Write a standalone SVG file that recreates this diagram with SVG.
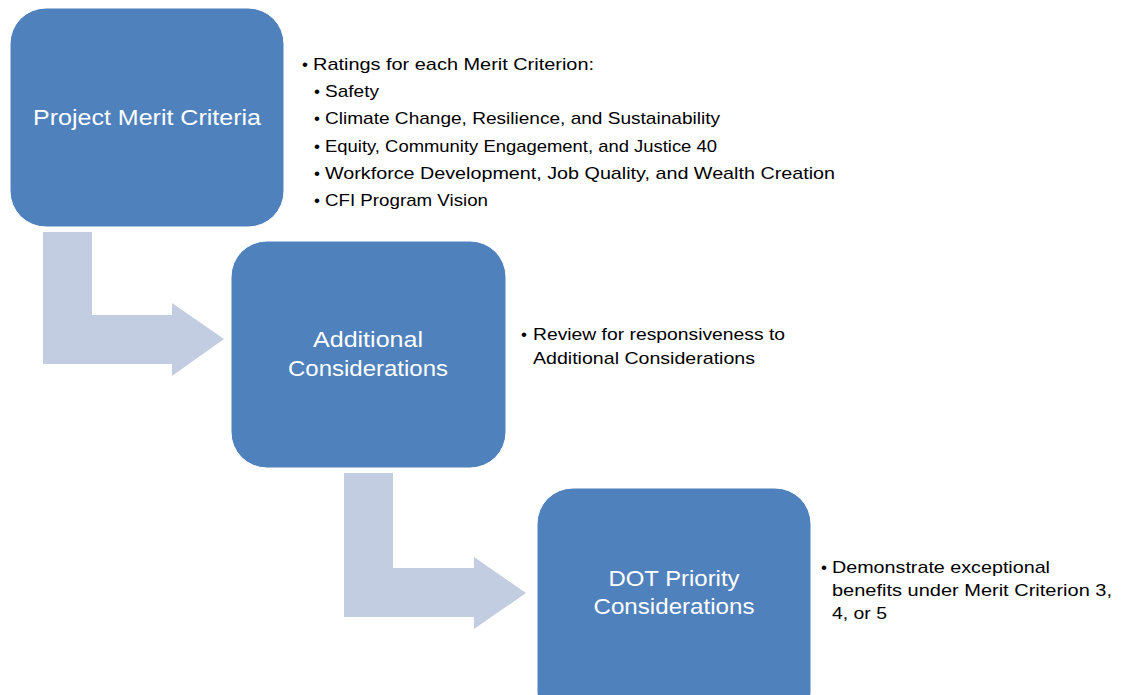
<svg xmlns="http://www.w3.org/2000/svg" width="1121" height="695" viewBox="0 0 1121 695">
<style>
.box{fill:#4F81BD;stroke:#ffffff;stroke-width:1}
.arrow{fill:#C3CDE2}
.lbl{font-family:"Liberation Sans",Arial,sans-serif;font-size:22px;fill:#ffffff;text-anchor:middle}
.bul{font-family:"Liberation Sans",Arial,sans-serif;font-size:17px;fill:#000000}
</style>
<rect width="1121" height="695" fill="#ffffff"/>
<g id="connectors">
<path class="arrow" d="M43,232 H92 V315 H172 V303 L224,339 L172,376 V364 H43 Z"/>
<path class="arrow" d="M344,473 H393 V568 H474 V557 L526,593 L474,629 V617 H344 Z"/>
</g>
<g id="node1">
<rect class="box" x="10" y="8" width="274" height="219" rx="36"/>
<text class="lbl" x="147" y="125" textLength="228" lengthAdjust="spacingAndGlyphs">Project Merit Criteria</text>
</g>
<g id="node1-notes">
<text class="bul" x="302" y="70">•</text>
<text class="bul" x="313" y="70" textLength="281" lengthAdjust="spacingAndGlyphs">Ratings for each Merit Criterion:</text>
<text class="bul" x="314" y="97">•</text>
<text class="bul" x="325" y="97" textLength="54" lengthAdjust="spacingAndGlyphs">Safety</text>
<text class="bul" x="314" y="124">•</text>
<text class="bul" x="325" y="124" textLength="395" lengthAdjust="spacingAndGlyphs">Climate Change, Resilience, and Sustainability</text>
<text class="bul" x="314" y="152">•</text>
<text class="bul" x="325" y="152" textLength="392" lengthAdjust="spacingAndGlyphs">Equity, Community Engagement, and Justice 40</text>
<text class="bul" x="314" y="179">•</text>
<text class="bul" x="325" y="179" textLength="510" lengthAdjust="spacingAndGlyphs">Workforce Development, Job Quality, and Wealth Creation</text>
<text class="bul" x="314" y="206">•</text>
<text class="bul" x="325" y="206" textLength="163" lengthAdjust="spacingAndGlyphs">CFI Program Vision</text>
</g>
<g id="node2">
<rect class="box" x="231" y="241" width="275" height="227" rx="36"/>
<text class="lbl" x="368" y="347" textLength="110" lengthAdjust="spacingAndGlyphs">Additional</text>
<text class="lbl" x="368" y="376" textLength="160" lengthAdjust="spacingAndGlyphs">Considerations</text>
</g>
<g id="node2-notes">
<text class="bul" x="521" y="340">•</text>
<text class="bul" x="533" y="340" textLength="252" lengthAdjust="spacingAndGlyphs">Review for responsiveness to</text>
<text class="bul" x="533" y="364" textLength="222" lengthAdjust="spacingAndGlyphs">Additional Considerations</text>
</g>
<g id="node3">
<rect class="box" x="537" y="488" width="274" height="240" rx="36"/>
<text class="lbl" x="674" y="586" textLength="131" lengthAdjust="spacingAndGlyphs">DOT Priority</text>
<text class="lbl" x="674" y="614" textLength="161" lengthAdjust="spacingAndGlyphs">Considerations</text>
</g>
<g id="node3-notes">
<text class="bul" x="821" y="573">•</text>
<text class="bul" x="832" y="573" textLength="218" lengthAdjust="spacingAndGlyphs">Demonstrate exceptional</text>
<text class="bul" x="832" y="596" textLength="280" lengthAdjust="spacingAndGlyphs">benefits under Merit Criterion 3,</text>
<text class="bul" x="832" y="619" textLength="55" lengthAdjust="spacingAndGlyphs">4, or 5</text>
</g>
</svg>
